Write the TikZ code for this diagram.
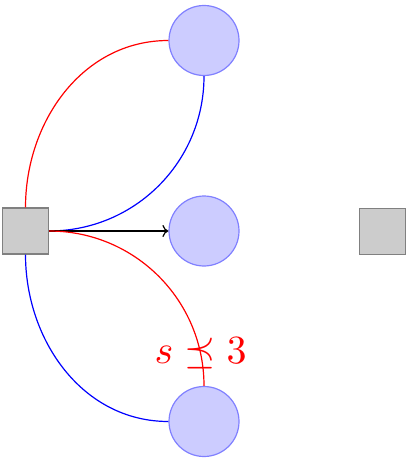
\documentclass[tikz,border=0pt]{standalone}
\usepackage{amsmath,amssymb,graphicx}
\usetikzlibrary{arrows.meta}
\begin{document}
\begin{tikzpicture}[x=1pt,y=-1pt,
  place/.style={circle,draw=blue!50,fill=blue!20,line width=1.2pt,minimum size=70pt,inner sep=0pt},
  trans/.style={rectangle,draw=black!50,fill=black!20,line width=1.2pt,minimum size=46pt,inner sep=0pt},
  conn/.style={line width=1.2pt}]
\useasboundingbox (0,0) rectangle (417,462);
\node[trans] (t1) at (25.5,231) {};
\node[trans] (t2) at (382.5,231.5) {};
\node[place] (p1) at (204,40.5) {};
\node[place] (p2) at (204,231) {};
\node[place] (p3) at (204,421.5) {};
\draw[conn,red] (t1.north) to[out=90,in=180] (p1.west);
\draw[conn,blue] (p1.south) to[out=-90,in=0] (t1.east);
\draw[conn,-{To[length=6pt,width=12pt]}] (t1.east) -- (p2.west);
\draw[conn,red] (t1.east) to[out=0,in=90] node[pos=0.87,text=red,inner sep=0pt] (lbl) {\scalebox{4.0}{$s \preceq 3$}} (p3.north);
\draw[conn,blue] (t1.south) to[out=-90,in=180] (p3.west);
\end{tikzpicture}
\end{document}
